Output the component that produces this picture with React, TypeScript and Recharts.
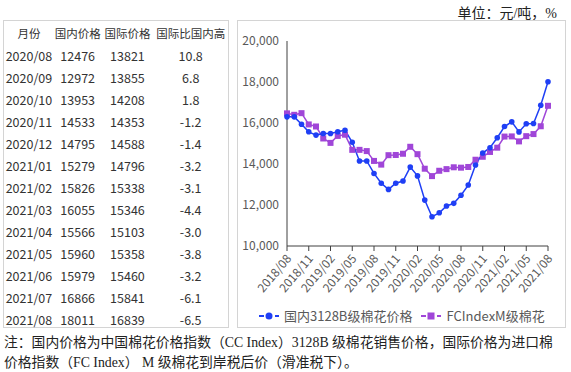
import React from 'react';
import { LineChart, Line, XAxis, YAxis } from 'recharts';

const months = [
  '2018/08', '2018/09', '2018/10', '2018/11', '2018/12',
  '2019/01', '2019/02', '2019/03', '2019/04', '2019/05', '2019/06',
  '2019/07', '2019/08', '2019/09', '2019/10', '2019/11', '2019/12',
  '2020/01', '2020/02', '2020/03', '2020/04', '2020/05', '2020/06',
  '2020/07', '2020/08', '2020/09', '2020/10', '2020/11', '2020/12',
  '2021/01', '2021/02', '2021/03', '2021/04', '2021/05', '2021/06',
  '2021/07', '2021/08',
];

// 国内3128B级棉花价格
const domestic = [
  16300, 16300, 15940, 15570, 15410, 15490, 15490, 15570, 15650, 15060,
  14150, 14150, 13540, 13060, 12760, 13060, 13170, 13850, 13420, 12240,
  11430, 11620, 11950, 12080, 12476, 12972, 13953, 14533, 14795, 15279,
  15826, 16055, 15566, 15960, 15979, 16866, 18011,
];

// FCIndexM级棉花
const international = [
  16470, 16400, 16480, 15930, 15830, 15245, 15030, 15370, 15430, 14690,
  14690, 14630, 14150, 13970, 14430, 14440, 14500, 14840, 14480, 13770,
  13410, 13670, 13750, 13840, 13821, 13855, 14208, 14353, 14588, 14796,
  15338, 15346, 15103, 15358, 15460, 15841, 16839,
];

// 国际比国内高 (%), last 13 months
const premium = [10.8, 6.8, 1.8, -1.2, -1.4, -3.2, -3.1, -4.4, -3.0, -3.8, -3.2, -6.1, -6.5];

const headers = ['月份', '国内价格', '国际价格', '国际比国内高'];
const yTicks = [10000, 12000, 14000, 16000, 18000, 20000];

const BLUE = '#1f3ff5';
const PURPLE = '#a046d8';
const SANS = "'Noto Sans CJK SC', sans-serif";
const SERIF = "'Liberation Serif', 'Noto Sans CJK SC', serif";

const chartData = months.map((m, i) => ({
  month: m,
  domestic: domestic[i],
  international: international[i],
}));

const tableRows = months.slice(-13).map((m, i) => ({
  month: m,
  dom: domestic[domestic.length - 13 + i],
  intl: international[international.length - 13 + i],
  diff: premium[i],
}));

const XTick = ({ x, y, payload }: any) => (
  <g transform={`translate(${x + 5},${y + 6})`}>
    <text textAnchor="end" transform="rotate(-50)" fontSize={12} fill="#595959" fontFamily={SANS}>
      {payload.value}
    </text>
  </g>
);

const SquareDot = ({ cx, cy, index }: any) => (
  <rect key={index} x={cx - 3} y={cy - 3} width={6} height={6} fill={PURPLE} />
);

const cols = [50, 48, 52, 75];

export default function App() {
  return (
    <div
      style={{
        position: 'absolute',
        left: 0,
        top: 0,
        width: 571,
        height: 372,
        background: '#fff',
        fontFamily: SANS,
        color: '#333',
      }}
    >
      <div style={{ position: 'absolute', right: 14, top: 2, fontFamily: SERIF, fontSize: 14, color: '#222' }}>
        单位：元/吨，%
      </div>

      {/* table */}
      <div
        style={{
          position: 'absolute',
          left: 3,
          top: 20,
          width: 226,
          height: 308,
          border: '1px solid #d4d4d4',
          boxSizing: 'border-box',
          paddingTop: 1,
          fontSize: 12.5,
        }}
      >
        <div style={{ display: 'flex', height: 22, alignItems: 'center', fontSize: 11.5 }}>
          {headers.map((h, i) => (
            <div key={h} style={{ width: cols[i], textAlign: 'center', whiteSpace: 'nowrap' }}>
              {h}
            </div>
          ))}
        </div>
        {tableRows.map((r) => (
          <div key={r.month} style={{ display: 'flex', height: 22, alignItems: 'center' }}>
            <div style={{ width: cols[0], textAlign: 'center' }}>{r.month}</div>
            <div style={{ width: cols[1], textAlign: 'center' }}>{r.dom}</div>
            <div style={{ width: cols[2], textAlign: 'center' }}>{r.intl}</div>
            <div style={{ width: cols[3], textAlign: 'center' }}>{r.diff.toFixed(1)}</div>
          </div>
        ))}
      </div>

      {/* chart */}
      <div
        style={{
          position: 'absolute',
          left: 237,
          top: 20,
          width: 329,
          height: 308,
          border: '1px solid #d4d4d4',
          boxSizing: 'border-box',
        }}
      >
        <LineChart
          width={327}
          height={286}
          data={chartData}
          margin={{ top: 20, right: 17, bottom: 0, left: 0 }}
        >
          <XAxis
            dataKey="month"
            interval={2}
            tickSize={5}
            height={61}
            stroke="#404040"
            tick={<XTick />}
          />
          <YAxis
            domain={[10000, 20000]}
            ticks={yTicks}
            width={49}
            tickLine={false}
            stroke="#404040"
            tick={{ fontSize: 12, fill: '#595959', fontFamily: SANS }}
            tickFormatter={(v: number) => v.toLocaleString('en-US')}
          />
          <Line
            dataKey="international"
            stroke={PURPLE}
            strokeWidth={1.5}
            dot={<SquareDot />}
            isAnimationActive={false}
          />
          <Line
            dataKey="domestic"
            stroke={BLUE}
            strokeWidth={1.5}
            dot={{ r: 2.8, fill: BLUE, stroke: BLUE, strokeWidth: 0 }}
            isAnimationActive={false}
          />
        </LineChart>
        <div
          style={{
            position: 'absolute',
            left: 20,
            top: 285,
            display: 'flex',
            alignItems: 'center',
            fontSize: 13,
            color: '#595959',
            whiteSpace: 'nowrap',
          }}
        >
          <svg width={22} height={10} style={{ marginRight: 4 }}>
            <line x1={1} y1={5} x2={21} y2={5} stroke={BLUE} strokeWidth={2} strokeDasharray="5 3" />
            <circle cx={11} cy={5} r={3.5} fill={BLUE} />
          </svg>
          <span style={{ marginRight: 8 }}>国内3128B级棉花价格</span>
          <svg width={22} height={10} style={{ marginRight: 4 }}>
            <line x1={1} y1={5} x2={21} y2={5} stroke={PURPLE} strokeWidth={2} strokeDasharray="5 3" />
            <rect x={7.5} y={1.5} width={7} height={7} fill={PURPLE} />
          </svg>
          <span>FCIndexM级棉花</span>
        </div>
      </div>

      {/* note */}
      <div
        style={{
          position: 'absolute',
          left: 4,
          top: 333,
          fontFamily: SERIF,
          fontSize: 13.8,
          lineHeight: '20px',
          color: '#222',
          whiteSpace: 'nowrap',
        }}
      >
        <div>注：国内价格为中国棉花价格指数（CC Index）3128B 级棉花销售价格，国际价格为进口棉</div>
        <div>价格指数（FC Index） M 级棉花到岸税后价（滑准税下）。</div>
      </div>
    </div>
  );
}
